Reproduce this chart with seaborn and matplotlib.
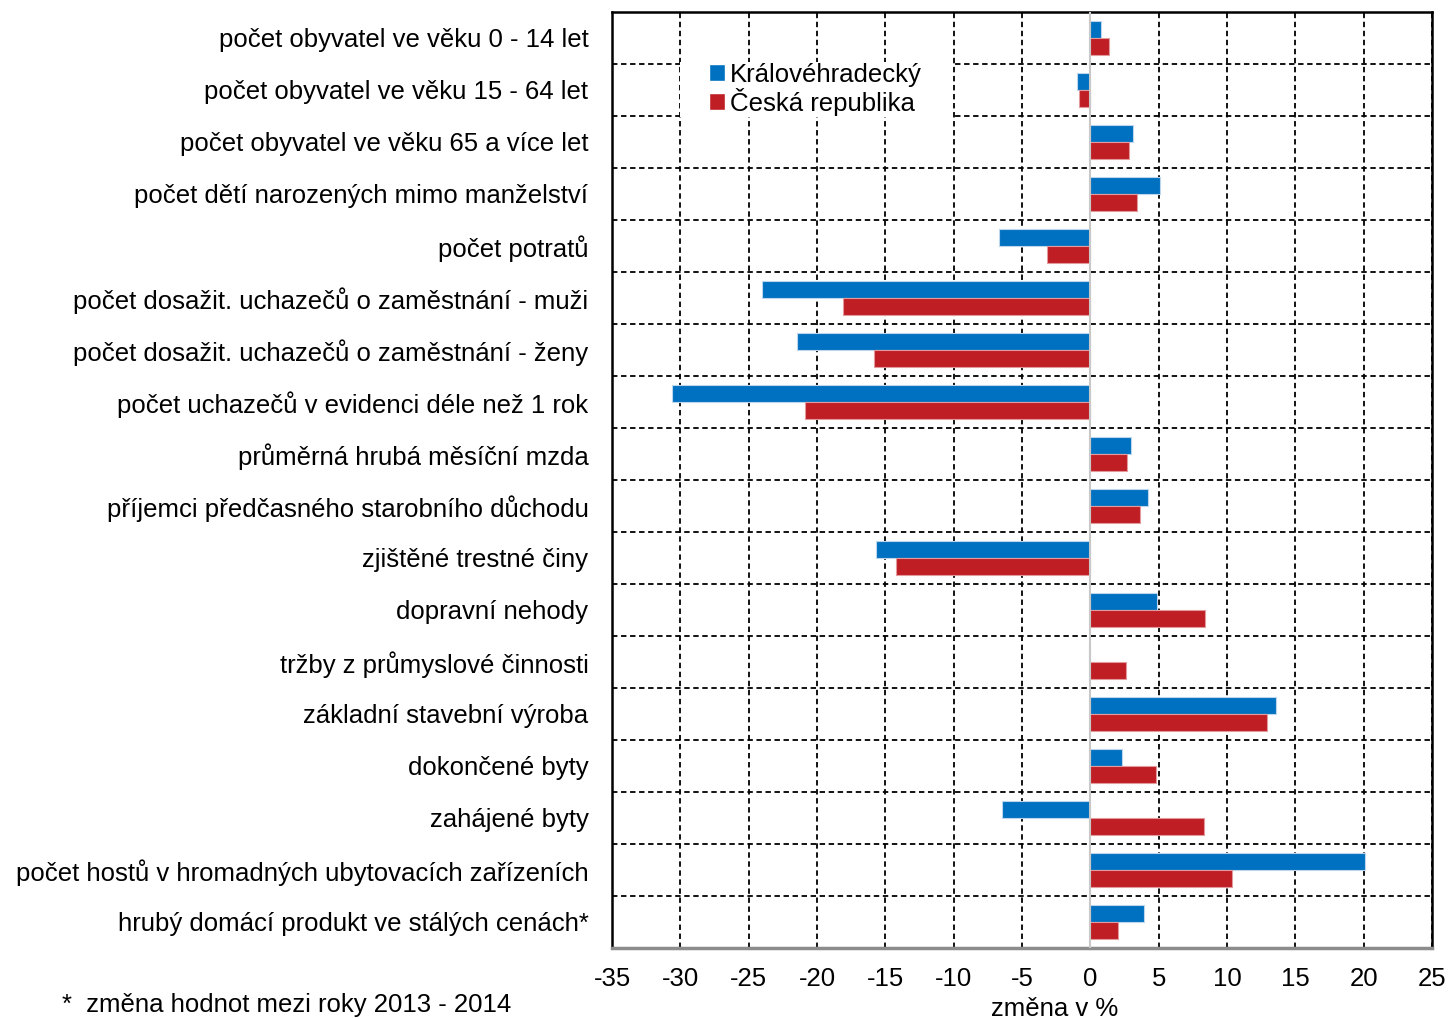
"""Změna vybraných ukazatelů: Královéhradecký kraj vs. Česká republika."""

import matplotlib.pyplot as plt
import numpy as np
import pandas as pd
import seaborn as sns
from matplotlib.patches import Patch, Rectangle

categories = [
    "počet obyvatel ve věku 0 - 14 let",
    "počet obyvatel ve věku 15 - 64 let",
    "počet obyvatel ve věku 65 a více let",
    "počet dětí narozených mimo manželství",
    "počet potratů",
    "počet dosažit. uchazečů o zaměstnání - muži",
    "počet dosažit. uchazečů o zaměstnání - ženy",
    "počet uchazečů v evidenci déle než 1 rok",
    "průměrná hrubá měsíční mzda",
    "příjemci předčasného starobního důchodu",
    "zjištěné trestné činy",
    "dopravní nehody",
    "tržby z průmyslové činnosti",
    "základní stavební výroba",
    "dokončené byty",
    "zahájené byty",
    "počet hostů v hromadných ubytovacích zařízeních",
    "hrubý domácí produkt ve stálých cenách*",
]
kralovehradecky = [0.8, -1.0, 3.1, 5.1, -6.7, -24.0, -21.5, -30.6, 3.0, 4.2,
                   -15.7, 4.9, -0.1, 13.6, 2.3, -6.5, 20.1, 3.9]
ceska_republika = [1.4, -0.8, 2.8, 3.4, -3.2, -18.1, -15.8, -20.9, 2.7, 3.6,
                   -14.2, 8.4, 2.6, 12.9, 4.8, 8.3, 10.4, 2.0]
series = ["Královéhradecký", "Česká republika"]
colors = ["#0070C0", "#BE1E24"]
x_ticks = list(range(-35, 30, 5))


def main():
    sns.set_theme(style="white")
    plt.rcParams["font.family"] = ["Liberation Sans", "DejaVu Sans"]
    plt.rcParams.update({"text.color": "black", "axes.labelcolor": "black",
                         "xtick.labelcolor": "black", "ytick.labelcolor": "black"})
    fs = 18.5

    df = pd.DataFrame({
        "ukazatel": categories * 2,
        "řada": [series[0]] * len(categories) + [series[1]] * len(categories),
        "změna": kralovehradecky + ceska_republika,
    })

    fig = plt.figure(figsize=(14.49, 10.19), dpi=100)
    ax = fig.add_axes([612 / 1449, 1 - 948 / 1019, 820 / 1449, 936 / 1019])

    sns.barplot(data=df, y="ukazatel", x="změna", hue="řada", orient="h",
                palette=colors, saturation=1, width=0.66, order=categories,
                hue_order=series, ax=ax, legend=False, zorder=3)
    for bar in ax.patches:
        bar.set_linewidth(0.8)
        bar.set_edgecolor("#bcd6ee" if bar.get_facecolor()[2] > 0.5 else "#e39a9d")

    ax.set_xlim(-35, 25)
    ax.set_ylim(len(categories) - 0.5, -0.5)
    ax.set_xticks(x_ticks)
    ax.set_xticklabels([str(t) for t in x_ticks], fontsize=fs)
    ax.set_yticks(range(len(categories)))
    ax.set_yticklabels(categories, fontsize=fs)
    ax.set_yticks(np.arange(0.5, len(categories) - 1, 1), minor=True)

    ax.grid(axis="x", which="major", color="black", linestyle=(0, (3, 2)), linewidth=1.3, zorder=1)
    ax.grid(axis="y", which="minor", color="black", linestyle=(0, (3, 2)), linewidth=1.3, zorder=1)
    ax.set_axisbelow(True)
    ax.axvline(0, color="#c8c8c8", linewidth=1.5, zorder=4)

    ax.tick_params(axis="y", which="both", length=0, pad=17)
    ax.tick_params(axis="x", direction="inout", length=9, width=2, color="#8c8c8c", pad=9)

    for side in ["left", "top", "right"]:
        ax.spines[side].set_color("black")
        ax.spines[side].set_linewidth(1.8)
    ax.spines["bottom"].set_color("#8c8c8c")
    ax.spines["bottom"].set_linewidth(2.5)

    ax.set_xlabel("změna v %", fontsize=fs, labelpad=0)
    ax.xaxis.set_label_coords(0.54, -0.052)
    ax.set_ylabel("")

    # white box behind the legend, covering the grid
    ax.add_patch(Rectangle((0.083, 0.888), 0.332, 0.059, transform=ax.transAxes,
                           facecolor="white", edgecolor="none", zorder=2))
    handles = [Patch(facecolor=c, label=s) for c, s in zip(colors, series)]
    ax.legend(handles=handles, loc="upper left", bbox_to_anchor=(0.118, 0.946),
              fontsize=fs, frameon=False, handlelength=0.62, handleheight=0.62,
              handletextpad=0.2, labelspacing=0.05, borderpad=0, borderaxespad=0)

    fig.text(62 / 1449, 1 - 1017 / 1019, "*  změna hodnot mezi roky 2013 - 2014",
             fontsize=fs, va="bottom", ha="left")

    fig.savefig("out.png", dpi=100)


if __name__ == "__main__":
    main()
